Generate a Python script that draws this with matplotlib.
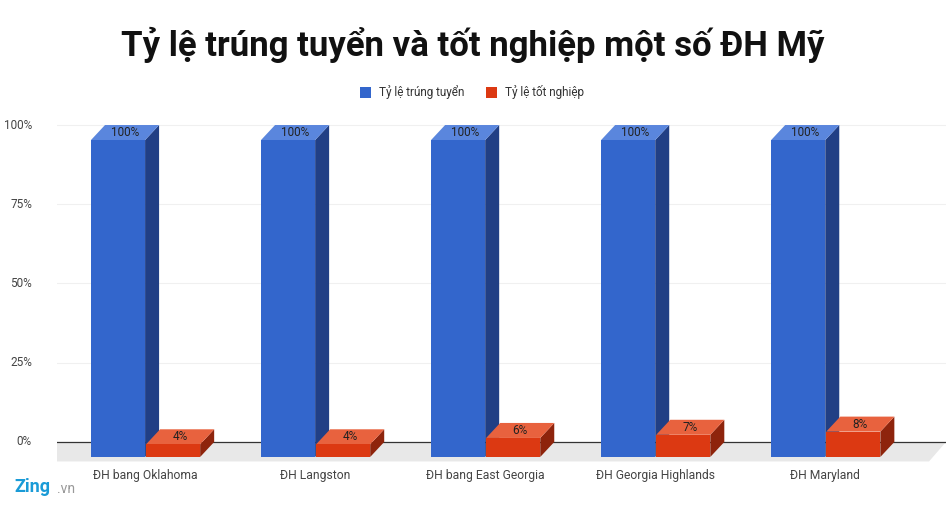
import matplotlib
matplotlib.use("Agg")
import matplotlib.pyplot as plt
from matplotlib.patches import Polygon, Rectangle

categories = ["ĐH bang Oklahoma", "ĐH Langston", "ĐH bang East Georgia", "ĐH Georgia Highlands", "ĐH Maryland"]
admit = [100, 100, 100, 100, 100]
grad = [4, 4, 6, 7, 8]
series_names = ["Tỷ lệ trúng tuyển", "Tỷ lệ tốt nghiệp"]
yticks = [0, 25, 50, 75, 100]

plt.rcParams['font.family'] = ['Roboto', 'DejaVu Sans']
W, H = 946, 508
fig = plt.figure(figsize=(W/100, H/100), dpi=100)
ax = fig.add_axes([57/W, 1-480/H, (946-57)/W, (480-106)/H])
ax.set_xlim(-0.518, 4.71)
ax.set_ylim(-12, 106)
ax.axis('off')

bw = 0.318
dx = 14/170
dy = 15/317*100
styles = [("#3366cc", "#5a86dd", "#213f85"), ("#dc3912", "#e8623e", "#8e240c")]

for t in yticks:
    if t > 0:
        ax.plot([-0.518, 4.71], [t, t], color="#f0f0f0", lw=0.8, zorder=0)
    ax.text(-0.518-25/170, t, f"{t}%", ha='right', va='center', fontsize=8.5, color="#444444")
floor = Polygon([(-0.518, 0), (4.71, 0), (4.71-0.1, -dy*1.3), (-0.518-0.1, -dy*1.3)],
                closed=True, facecolor="#e8e8e8", edgecolor='none', zorder=1)
ax.add_patch(floor)
ax.plot([-0.518, 4.71], [0, 0], color="#333333", lw=0.9, zorder=2)

for i, cat in enumerate(categories):
    for j, vals in enumerate([admit, grad]):
        v = vals[i]
        front, top, side = styles[j]
        x0 = i - bw + j*(bw + 1/170)
        x1 = x0 + bw
        yb = -dy
        yt = v - dy
        ax.add_patch(Polygon([(x1, yb), (x1+dx, 0), (x1+dx, v), (x1, yt)], facecolor=side, edgecolor='none', zorder=3))
        ax.add_patch(Polygon([(x0, yt), (x1, yt), (x1+dx, v), (x0+dx, v)], facecolor=top, edgecolor='none', zorder=3))
        ax.add_patch(Rectangle((x0, yb), bw, v, facecolor=front, edgecolor='none', zorder=3))
        ax.text((x0+x1)/2 + dx/2, v - dy/2, f"{v}%", ha='center', va='center', fontsize=8.5, color="#222222", zorder=4)
    ax.text(i, -10.6, cat, ha='center', va='center', fontsize=8.7, color="#444444")

fig.text(0.5, 1-45/H, "Tỷ lệ trúng tuyển và tốt nghiệp một số ĐH Mỹ", ha='center', va='center',
         fontsize=25, fontweight='bold', color="#111111")
for (name, col, xs) in [(series_names[0], "#3366cc", 360), (series_names[1], "#dc3912", 486)]:
    fig.patches.append(Rectangle((xs/W, 1-98/H), 11/W, 11/H, transform=fig.transFigure, facecolor=col, edgecolor='none'))
    fig.text((xs+19)/W, 1-92/H, name, ha='left', va='center', fontsize=8.5, color="#333333")
fig.text(14/W, 1-487/H, "Zing", ha='left', va='center', fontsize=13, fontweight='bold', color="#1a9bd7")
fig.text(57/W, 1-489/H, ".vn", ha='left', va='center', fontsize=10, color="#999999")

fig.savefig("out.png", dpi=100, facecolor='white')
